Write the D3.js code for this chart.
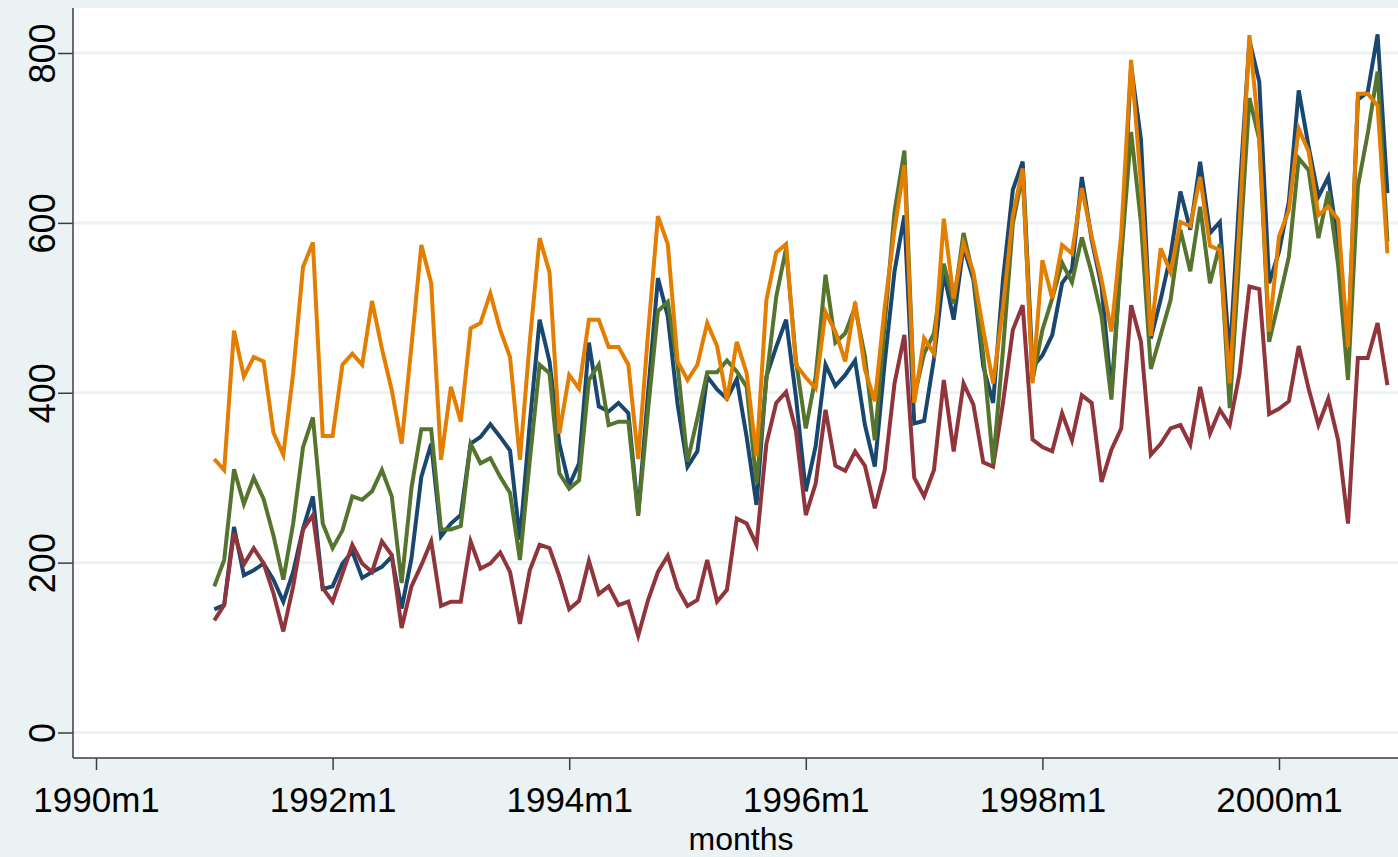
<!DOCTYPE html>
<html>
<head>
  <title>Monthly series</title>
  <script src="https://d3js.org/d3.v7.min.js"></script>
  <style>
    body { margin: 0; background: #eaf2f3; }
    svg { display: block; }
  </style>
</head>
<body>
  <svg></svg>
  <script>

    // months are counted from 1990m1 (= 0); data runs 1991m1 .. 2000m12
    var firstMonth = 12;

    var xTickValues = [0, 24, 48, 72, 96, 120];
    var xTickLabels = ["1990m1", "1992m1", "1994m1", "1996m1", "1998m1", "2000m1"];
    var yTickValues = [0, 200, 400, 600, 800];

    // series 1 (navy)
    var seriesNavy = [
      145, 150, 242, 185, 191, 199, 180, 154, 189, 240, 278, 169,
      172, 199, 213, 182, 189, 195, 207, 146, 205, 301, 340, 231,
      246, 256, 340, 348, 363, 348, 332, 227, 364, 486, 437, 340,
      291, 317, 459, 384, 378, 388, 376, 258, 400, 535, 490, 386,
      313, 331, 419, 404, 393, 416, 348, 268, 419, 454, 486, 395,
      284, 337, 433, 408, 421, 438, 362, 313, 435, 543, 609, 364,
      367, 440, 541, 486, 572, 533, 431, 388, 533, 639, 672, 430,
      444, 468, 529, 545, 654, 580, 525, 400, 564, 785, 698, 464,
      510, 562, 637, 592, 672, 588, 601, 440, 635, 815, 766, 529,
      566, 625, 756, 690, 631, 654, 575, 455, 745, 754, 822, 635
    ];

    // series 2 (maroon)
    var seriesMaroon = [
      132, 150, 235, 198, 217, 199, 164, 119, 172, 239, 256, 170,
      154, 187, 221, 199, 189, 225, 209, 123, 172, 197, 225, 149,
      154, 154, 225, 193, 199, 212, 189, 128, 191, 221, 217, 184,
      145, 155, 202, 163, 172, 150, 154, 114, 156, 189, 208, 170,
      149, 156, 203, 154, 168, 252, 246, 221, 340, 388, 401, 355,
      256, 293, 380, 314, 308, 331, 314, 264, 309, 411, 468, 300,
      278, 309, 415, 331, 411, 386, 318, 313, 388, 474, 503, 345,
      336, 331, 376, 344, 397, 388, 295, 333, 358, 503, 460, 327,
      340, 358, 362, 339, 407, 352, 380, 362, 423, 525, 522, 375,
      381, 390, 455, 405, 362, 393, 344, 246, 441, 441, 482, 409
    ];

    // series 3 (green)
    var seriesGreen = [
      172, 203, 310, 269, 300, 275, 232, 180, 246, 336, 371, 246,
      217, 238, 278, 274, 284, 309, 278, 176, 288, 357, 357, 239,
      239, 243, 340, 317, 323, 301, 282, 203, 320, 433, 423, 305,
      287, 297, 415, 433, 362, 366, 366, 255, 380, 496, 507, 432,
      319, 370, 424, 424, 438, 425, 407, 293, 415, 513, 570, 438,
      358, 419, 539, 459, 470, 501, 443, 344, 480, 613, 685, 395,
      446, 470, 552, 505, 588, 537, 445, 317, 450, 599, 658, 415,
      474, 511, 553, 530, 583, 541, 490, 392, 560, 707, 600, 428,
      468, 509, 592, 543, 619, 529, 575, 382, 564, 747, 698, 460,
      509, 560, 676, 662, 582, 637, 550, 415, 643, 705, 778, 578
    ];

    // series 4 (orange)
    var seriesOrange = [
      322, 309, 473, 419, 442, 437, 353, 327, 423, 548, 577, 349,
      349, 433, 446, 433, 508, 452, 403, 340, 455, 574, 529, 321,
      407, 366, 476, 482, 517, 474, 442, 321, 460, 582, 542, 352,
      421, 405, 486, 486, 454, 454, 433, 322, 470, 608, 575, 437,
      415, 433, 482, 455, 391, 460, 423, 325, 509, 565, 575, 433,
      418, 405, 495, 472, 437, 507, 427, 390, 500, 592, 668, 388,
      464, 446, 605, 511, 576, 542, 474, 411, 501, 609, 664, 411,
      556, 511, 574, 564, 641, 584, 533, 472, 588, 792, 645, 467,
      570, 542, 601, 596, 654, 573, 568, 411, 600, 821, 700, 472,
      584, 615, 711, 684, 609, 619, 604, 454, 752, 752, 738, 564
    ];

    var series = [
      {values: seriesNavy, color: "#1a476f"},
      {values: seriesMaroon, color: "#90353b"},
      {values: seriesGreen, color: "#55752f"},
      {values: seriesOrange, color: "#e37e00"}
    ];

    var width = 1398, height = 857;
    var plot = {left: 73, top: 8, right: 1398, bottom: 758};

    var svg = d3.select("svg")
        .attr("width", width)
        .attr("height", height);

    // outer (graph) region and plot region
    svg.append("rect")
        .attr("width", width).attr("height", height)
        .attr("fill", "#eaf2f3");
    svg.append("rect")
        .attr("x", plot.left).attr("y", plot.top)
        .attr("width", plot.right - plot.left)
        .attr("height", plot.bottom - plot.top)
        .attr("fill", "#ffffff");

    var x = d3.scaleLinear().domain([0, 120]).range([96, 1279]);
    var y = d3.scaleLinear().domain([0, 800]).range([732.5, 53]);

    // gridlines
    svg.append("g")
      .selectAll("line")
      .data(yTickValues)
      .enter().append("line")
        .attr("x1", plot.left)
        .attr("x2", plot.right)
        .attr("y1", function(d) { return y(d); })
        .attr("y2", function(d) { return y(d); })
        .attr("stroke", "#eaf2f3")
        .attr("stroke-width", 3);

    // lines, drawn in variable order so the last one sits on top
    var line = d3.line()
        .x(function(d, i) { return x(firstMonth + i); })
        .y(function(d) { return y(d); });

    series.forEach(function(s) {
      svg.append("path")
          .datum(s.values)
          .attr("fill", "none")
          .attr("stroke", s.color)
          .attr("stroke-width", 4)
          .attr("stroke-linejoin", "miter")
          .attr("d", line);
    });

    var font = "'Liberation Sans', Arial, sans-serif";

    // y axis
    var yAxis = svg.append("g")
        .attr("transform", "translate(" + plot.left + ",0)")
        .call(d3.axisLeft(y).tickValues(yTickValues).tickSize(15).tickPadding(0).tickFormat(d3.format("d")));
    yAxis.select(".domain")
        .attr("d", "M0," + plot.top + "V" + plot.bottom)
        .attr("stroke", "#3c3c3c").attr("stroke-width", 1.5);
    yAxis.selectAll(".tick line").attr("stroke", "#3c3c3c").attr("stroke-width", 1.5);
    yAxis.selectAll(".tick text")
        .attr("x", 0).attr("dy", 0)
        .attr("transform", "translate(-31,0) rotate(-90)")
        .attr("text-anchor", "middle")
        .attr("dominant-baseline", "central")
        .style("font-family", font)
        .style("font-size", "36px")
        .attr("fill", "#000");

    // x axis
    var xAxis = svg.append("g")
        .attr("transform", "translate(0," + plot.bottom + ")")
        .call(d3.axisBottom(x).tickValues(xTickValues).tickSize(12).tickPadding(0)
          .tickFormat(function(d, i) { return xTickLabels[i]; }));
    xAxis.select(".domain")
        .attr("d", "M" + plot.left + ",0H" + plot.right)
        .attr("stroke", "#3c3c3c").attr("stroke-width", 1.5);
    xAxis.selectAll(".tick line").attr("stroke", "#3c3c3c").attr("stroke-width", 1.5);
    xAxis.selectAll(".tick text")
        .attr("y", 54).attr("dy", 0)
        .style("font-family", font)
        .style("font-size", "35px")
        .attr("fill", "#000");

    // x axis title
    svg.append("text")
        .attr("x", 741)
        .attr("y", 850)
        .attr("text-anchor", "middle")
        .style("font-family", font)
        .style("font-size", "32px")
        .text("months");

  </script>
</body>
</html>
